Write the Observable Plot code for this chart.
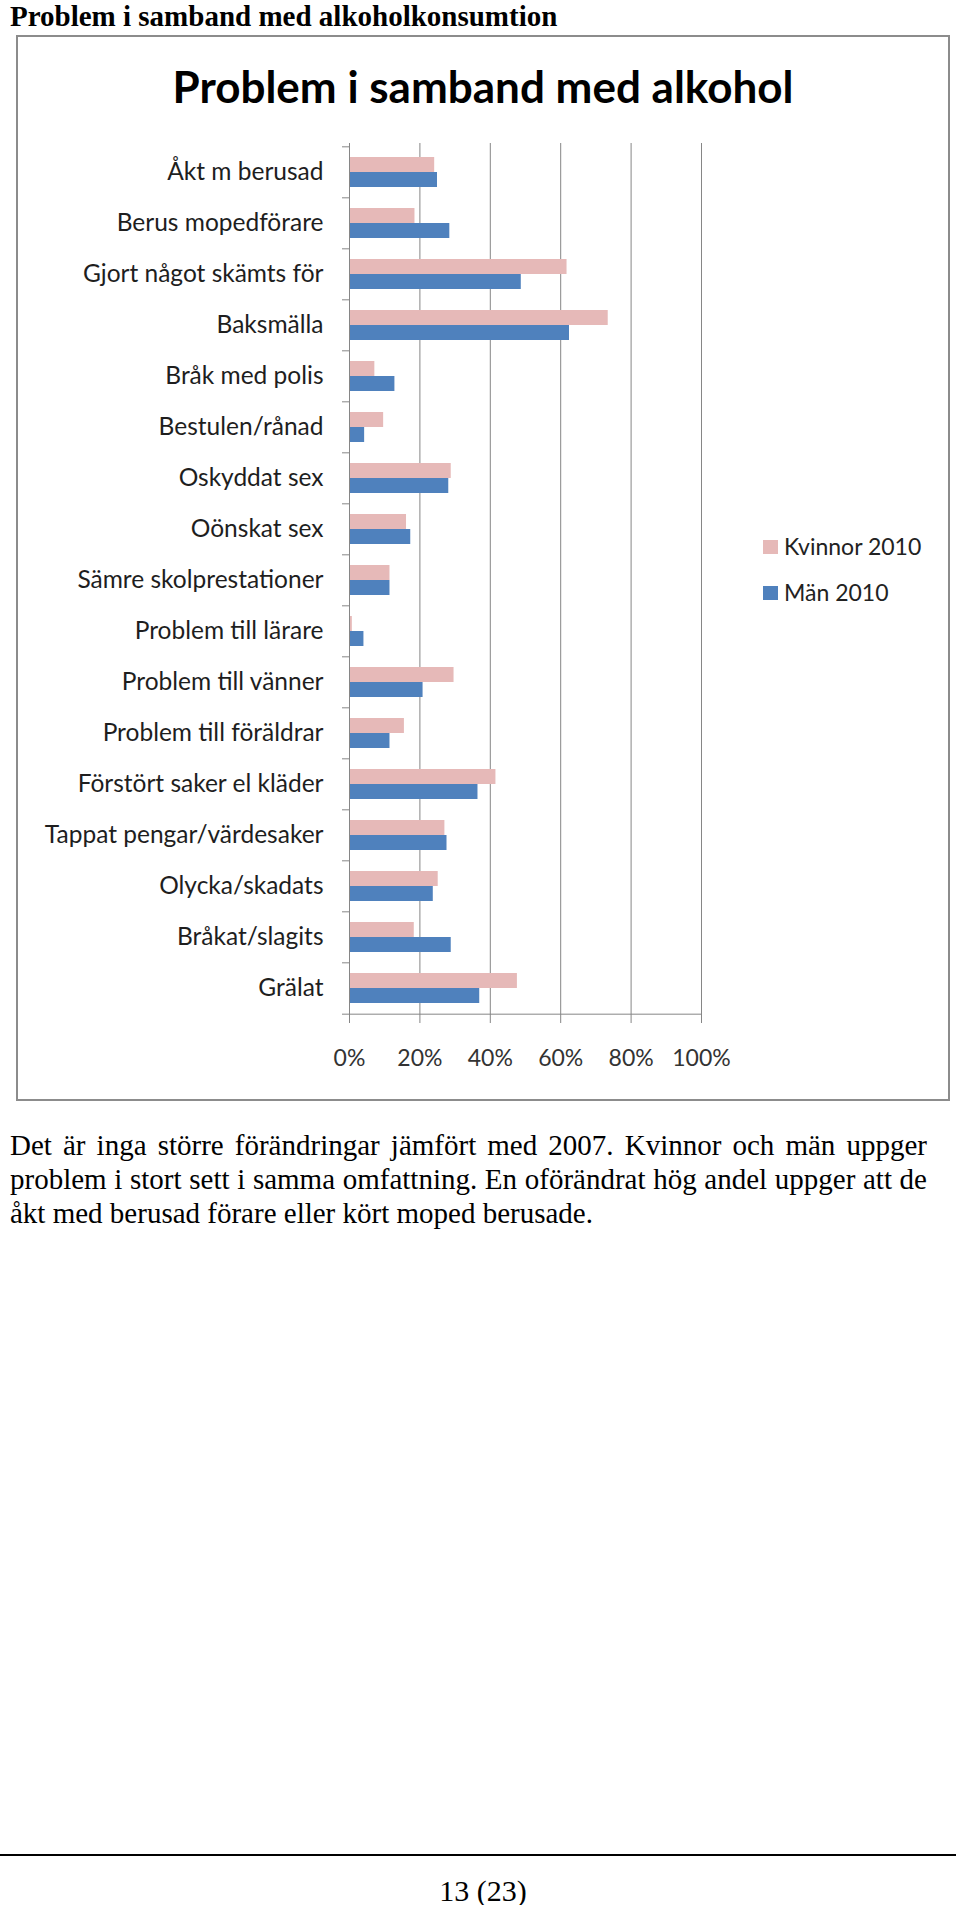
<!DOCTYPE html>
<html>
<head>
<meta charset="utf-8">
<script src="https://cdn.jsdelivr.net/npm/d3@7"></script>
<script src="https://cdn.jsdelivr.net/npm/@observablehq/plot@0.6"></script>
<style>
  html, body { margin: 0; padding: 0; background: #fff; }
  body { width: 960px; height: 1905px; position: relative; overflow: hidden; }
  .abs { position: absolute; }
  #pageTitle { left: 10px; top: 0px; font: bold 29px/32px "Liberation Serif", "Times New Roman", serif; color: #000; white-space: nowrap; }
  #frame { left: 16px; top: 35px; width: 934px; height: 1066px; box-sizing: border-box; border: 2px solid #8c8c8c; }
  #innerTitle { left: 16px; top: 62px; width: 934px; text-align: center; font: bold 44px/48px Lato, "Open Sans", sans-serif; color: #000; }
  #chart { left: 0px; top: 120px; }
  .leg { font: 23px/23px Lato, sans-serif; color: #222; white-space: nowrap; display: flex; align-items: center; }
  .sw { width: 15px; height: 14px; margin-right: 6px; }
  #body { left: 10px; top: 1128px; width: 917px; font: 29px/34px "Liberation Serif", "Times New Roman", serif; color: #000; }
  #body .j { text-align: justify; text-align-last: justify; white-space: nowrap; }
  #body .l { text-align: left; white-space: nowrap; }
  #rule { left: 0px; top: 1854px; width: 956px; height: 2px; background: #000; }
  #footer { left: 0px; top: 1876px; width: 966px; text-align: center; font: 30px/30px "Liberation Serif", serif; color: #000; }
</style>
</head>
<body>
<div id="pageTitle" class="abs">Problem i samband med alkoholkonsumtion</div>
<div id="frame" class="abs"></div>
<div id="innerTitle" class="abs">Problem i samband med alkohol</div>
<div id="chart" class="abs"></div>
<div id="legend"></div>
<div id="body" class="abs"><div class="j">Det är inga större förändringar jämfört med 2007. Kvinnor och män uppger</div><div class="j">problem i stort sett i samma omfattning. En oförändrat hög andel uppger att de</div><div class="l">åkt med berusad förare eller kört moped berusade.</div></div>
<div id="rule" class="abs"></div>
<div id="footer" class="abs">13 (23)</div>
<script>
// ---- data ----
const categories = [
  "Åkt m berusad", "Berus mopedförare", "Gjort något skämts för", "Baksmälla",
  "Bråk med polis", "Bestulen/rånad", "Oskyddat sex", "Oönskat sex",
  "Sämre skolprestationer", "Problem till lärare", "Problem till vänner",
  "Problem till föräldrar", "Förstört saker el kläder", "Tappat pengar/värdesaker",
  "Olycka/skadats", "Bråkat/slagits", "Grälat"
];
const kvinnor2010 = [24.2, 18.6, 61.8, 73.5, 7.2, 9.7, 28.9, 16.2, 11.5, 0.8, 29.7, 15.6, 41.6, 27.1, 25.2, 18.4, 47.7];
const man2010     = [25.0, 28.5, 48.8, 62.5, 12.9, 4.3, 28.2, 17.4, 11.5, 4.1, 20.9, 11.5, 36.5, 27.7, 23.8, 28.9, 37.0];
const seriesNames = ["Kvinnor 2010", "Män 2010"];
const seriesColors = ["#E6B9B8", "#4F81BD"];
const xTicks = [0, 20, 40, 60, 80, 100];

// ---- build table ----
const kData = categories.map((c, i) => ({category: c, value: kvinnor2010[i], series: seriesNames[0]}));
const mData = categories.map((c, i) => ({category: c, value: man2010[i], series: seriesNames[1]}));

const width = 960, height = 1000;
const marginTop = 23, marginBottom = 104, marginLeft = 349, marginRight = 259;
const step = (height - marginTop - marginBottom) / categories.length;
const bandFrac = 30 / step;
const pInner = 1 - bandFrac;
const half = 15;
const gray = "#868686";

const chart = Plot.plot({
  width, height, marginTop, marginBottom, marginLeft, marginRight,
  style: {fontFamily: "Lato, sans-serif", background: "transparent", overflow: "visible"},
  x: {domain: [0, 100]},
  y: {type: "band", domain: categories, paddingInner: pInner, paddingOuter: pInner / 2},
  color: {domain: seriesNames, range: seriesColors},
  marks: [
    Plot.ruleX(xTicks.slice(1), {stroke: gray, strokeWidth: 1}),
    Plot.barX(kData, {y: "category", x: "value", fill: "series", insetBottom: half}),
    Plot.barX(mData, {y: "category", x: "value", fill: "series", insetTop: half}),
    Plot.ruleX([0], {stroke: gray, strokeWidth: 1}),
    Plot.ruleY([categories[categories.length - 1]], {stroke: gray, strokeWidth: 1, dy: step / 2}),
    // category labels
    Plot.axisY({tickSize: 0, tickPadding: 26, fontSize: 24.5, fill: "#1e1e1e", label: null}),
    // boundary ticks between categories
    Plot.axisY({tickSize: 7, stroke: gray, fill: "none", label: null, dy: -step / 2}),
    Plot.axisY([categories[categories.length - 1]], {tickSize: 7, stroke: gray, fill: "none", label: null, dy: step / 2}),
    // x axis
    Plot.axisX({ticks: xTicks, tickSize: 7, tickPadding: 26, stroke: gray, fill: "#333", fontSize: 23,
      tickFormat: d => d + "%", label: null})
  ]
});
document.getElementById("chart").appendChild(chart);

// ---- legend ----
const legend = document.getElementById("legend");
const legendTops = [535, 581];
seriesNames.forEach((name, i) => {
  const row = document.createElement("div");
  row.className = "abs leg";
  row.style.left = "763px";
  row.style.top = legendTops[i] + "px";
  const sw = document.createElement("div");
  sw.className = "sw";
  sw.style.background = seriesColors[i];
  row.appendChild(sw);
  row.appendChild(document.createTextNode(name));
  legend.appendChild(row);
});
</script>
</body>
</html>
